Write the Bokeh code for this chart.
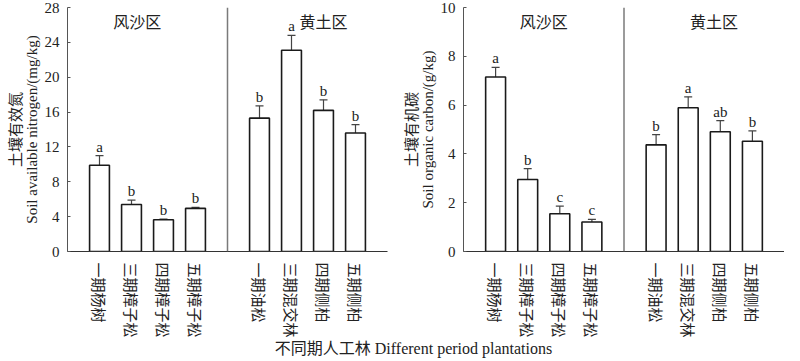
import math
from bokeh.plotting import figure
from bokeh.models import (ColumnDataSource, Range1d, FixedTicker, LinearAxis, Span,
                          Label, Whisker, TeeHead)
from bokeh.layouts import column, row
from bokeh.core.properties import value
from bokeh.embed import file_html
from bokeh.resources import INLINE

# ---- data ----
categories = ["一期杨树", "三期樟子松", "四期樟子松", "五期樟子松",
              "一期油松", "三期混交林", "四期侧柏", "五期侧柏"]
positions = [0, 1, 2, 3, 5, 6, 7, 8]
regions = ["风沙区", "黄土区"]

nitrogen = [9.9, 5.4, 3.65, 4.95, 15.3, 23.1, 16.2, 13.6]
nitrogen_err = [1.1, 0.5, 0.08, 0.12, 1.4, 1.7, 1.2, 0.95]
nitrogen_letters = ["a", "b", "b", "b", "b", "a", "b", "b"]

carbon = [7.15, 2.95, 1.55, 1.21, 4.37, 5.89, 4.91, 4.52]
carbon_err = [0.4, 0.45, 0.31, 0.11, 0.42, 0.45, 0.45, 0.42]
carbon_letters = ["a", "b", "c", "c", "b", "a", "ab", "b"]

nitrogen_ticks = [0, 4, 8, 12, 16, 20, 24, 28]
carbon_ticks = [0, 2, 4, 6, 8, 10]

SERIF = "'Liberation Serif', 'Noto Sans CJK SC'"
CJK = "'Noto Sans CJK SC'"
INK = "#222222"


def panel(vals, errs, letters, ticks, ymax, en_label, zh_label, width,
          border_left, border_right, region_x, region_y):
    p = figure(width=width, height=340, output_backend="svg", toolbar_location=None,
               x_range=Range1d(-1, 9), y_range=Range1d(0, ymax),
               min_border_left=border_left, min_border_right=border_right,
               min_border_top=7, min_border_bottom=89)
    p.outline_line_color = None
    p.grid.visible = False
    p.background_fill_color = "white"

    upper = [v + e for v, e in zip(vals, errs)]
    src = ColumnDataSource(dict(x=positions, top=vals, upper=upper,
                                letter=letters, label=categories))
    p.vbar(x="x", top="top", width=0.62, source=src, fill_color="white",
           line_color="#1a1a1a", line_width=1.6)
    wh = Whisker(base="x", lower="top", upper="upper", source=src,
                 line_color="#444444", line_width=1.2,
                 upper_head=TeeHead(size=8, line_color="#444444", line_width=1.2),
                 lower_head=None)
    p.add_layout(wh)
    p.text(x="x", y="upper", text="letter", source=src, text_align="center",
           text_baseline="bottom", y_offset=-1, text_font=value("Liberation Serif"),
           text_font_size=value("15px"), text_color=value(INK))

    # divider between regions
    p.add_layout(Span(location=4, dimension="height", line_color="#7a7a7a",
                      line_width=1.5))
    for rx, name in zip(region_x, regions):
        p.add_layout(Label(x=rx, y=region_y, text=name, text_align="center",
                           text_baseline="middle", text_font=CJK,
                           text_font_size="16px", text_color=INK))

    # x axis
    xa = p.xaxis[0]
    xa.ticker = FixedTicker(ticks=positions)
    xa.major_label_overrides = {pos: lab for pos, lab in zip(positions, categories)}
    xa.major_label_orientation = "vertical"
    xa.major_tick_line_color = None
    xa.minor_tick_line_color = None
    xa.axis_line_color = "#333333"
    xa.axis_line_width = 1.2
    xa.major_label_standoff = 5
    xa.major_label_text_font = CJK
    xa.major_label_text_font_size = "15px"
    xa.major_label_text_color = INK

    # y axis
    ya = p.yaxis[0]
    ya.ticker = FixedTicker(ticks=ticks)
    ya.major_tick_in = 3
    ya.major_tick_out = 0
    ya.minor_tick_line_color = None
    ya.axis_line_color = "#555555"
    ya.major_tick_line_color = "#555555"
    ya.major_label_standoff = 8
    ya.major_label_text_font = SERIF
    ya.major_label_text_font_size = "15px"
    ya.major_label_text_color = INK
    ya.axis_label = en_label
    ya.axis_label_text_font = SERIF
    ya.axis_label_text_font_style = "normal"
    ya.axis_label_text_font_size = "15px"
    ya.axis_label_text_color = INK
    ya.axis_label_standoff = 2

    zh = LinearAxis(axis_label=zh_label, ticker=FixedTicker(ticks=[]),
                    axis_line_color=None, major_tick_line_color=None,
                    minor_tick_line_color=None, major_label_standoff=0,
                    major_tick_in=0, major_tick_out=0, axis_label_standoff=-4,
                    axis_label_text_font=CJK, axis_label_text_font_style="normal",
                    axis_label_text_font_size="15px", axis_label_text_color=INK)
    p.add_layout(zh, "left")
    return p


p1 = panel(nitrogen, nitrogen_err, nitrogen_letters, nitrogen_ticks, 28,
           "Soil available nitrogen/(mg/kg)", "土壤有效氮", 392, 59, 5,
           [1.18, 7.0], 26.4)
p2 = panel(carbon, carbon_err, carbon_letters, carbon_ticks, 10,
           "Soil organic carbon/(g/kg)", "土壤有机碳", 392, 71, 0,
           [1.5, 6.8], 9.43)

p3 = figure(width=784, height=18, output_backend="svg", toolbar_location=None,
            x_range=Range1d(0, 784), y_range=Range1d(0, 18),
            min_border=0)
p3.axis.visible = False
p3.grid.visible = False
p3.outline_line_color = None
p3.add_layout(Label(x=413, y=10, text="不同期人工林 Different period plantations",
                    text_align="center", text_baseline="middle", text_font=SERIF,
                    text_font_size="16px", text_color=INK))

layout = column(row(p1, p2), p3)
open("out.html", "w").write(file_html(layout, INLINE))
